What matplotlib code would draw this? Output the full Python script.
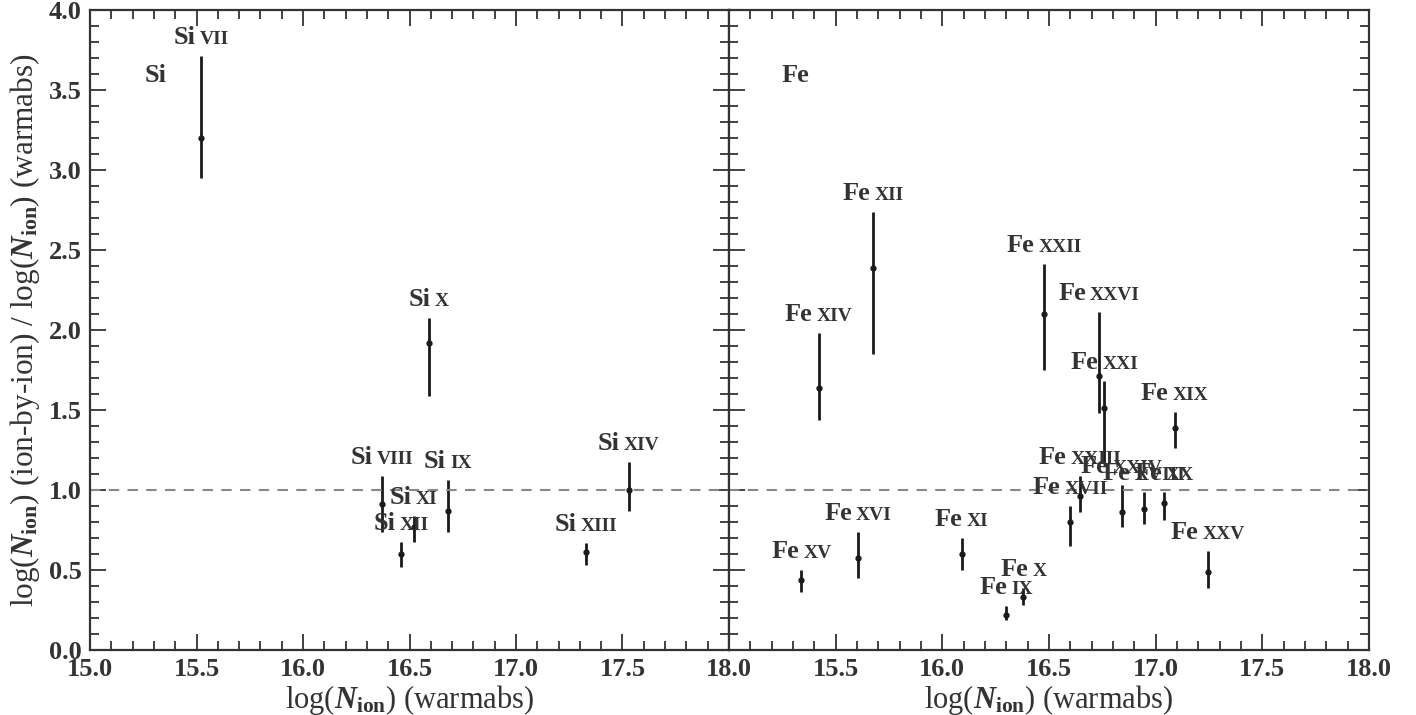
import matplotlib
matplotlib.use("Agg")
import matplotlib.pyplot as plt
from matplotlib.ticker import MultipleLocator
from matplotlib.offsetbox import TextArea, HPacker, AnnotationBbox

plt.rcParams['font.family'] = 'Liberation Serif'
plt.rcParams['font.weight'] = 'bold'
plt.rcParams['mathtext.fontset'] = 'custom'
plt.rcParams['mathtext.rm'] = 'Liberation Serif:bold'
plt.rcParams['mathtext.it'] = 'Liberation Serif:bold:italic'
plt.rcParams['mathtext.bf'] = 'Liberation Serif:bold'

INK = '#333333'

# silicon: warmabs column, ratio, upper / lower error ends
si_ions = ['VII', 'X', 'VIII', 'XII', 'XI', 'IX', 'XIII', 'XIV']
si_x = [15.52, 16.59, 16.37, 16.46, 16.52, 16.68, 17.33, 17.53]
si_y = [3.20, 1.92, 0.91, 0.60, 0.77, 0.87, 0.61, 1.00]
si_hi = [3.71, 2.075, 1.09, 0.675, 0.84, 1.06, 0.67, 1.175]
si_lo = [2.95, 1.59, 0.74, 0.52, 0.675, 0.74, 0.53, 0.87]

# iron
fe_ions = ['XV', 'XIV', 'XVI', 'XII', 'XI', 'IX', 'X', 'XXII', 'XXVI', 'XXI',
           'XIX', 'XXV', 'XVII', 'XXIII', 'XXIV', 'XVIII', 'XX']
fe_x = [15.34, 15.42, 15.605, 15.675, 16.09, 16.30, 16.38, 16.477, 16.735, 16.76,
        17.09, 17.245, 16.60, 16.645, 16.84, 16.945, 17.04]
fe_y = [0.44, 1.64, 0.575, 2.39, 0.60, 0.22, 0.33, 2.10, 1.71, 1.51,
        1.39, 0.49, 0.80, 0.96, 0.86, 0.88, 0.92]
fe_hi = [0.50, 1.98, 0.74, 2.74, 0.70, 0.275, 0.39, 2.41, 2.11, 1.68,
         1.49, 0.62, 0.90, 1.09, 1.03, 0.99, 0.99]
fe_lo = [0.36, 1.44, 0.45, 1.85, 0.50, 0.19, 0.28, 1.75, 1.48, 1.175,
         1.26, 0.39, 0.65, 0.86, 0.77, 0.79, 0.81]


def ion_label(ax, x, y, elem, stage):
    big = TextArea(elem, textprops=dict(fontsize=19, fontweight='bold', color=INK))
    small = TextArea(stage, textprops=dict(fontsize=14, fontweight='bold', color=INK))
    box = HPacker(children=[big, small], align='baseline', pad=0, sep=3)
    ab = AnnotationBbox(box, (x, y), xybox=(0, 5), xycoords='data',
                        boxcoords='offset points', box_alignment=(0.5, 0),
                        frameon=False, pad=0, annotation_clip=False)
    ax.add_artist(ab)


def panel(ax, elem, xs, ys, his, los, ions):
    for x, y, hi, lo, ion in zip(xs, ys, his, los, ions):
        ax.errorbar([x], [y], yerr=[[y - lo], [hi - y]], fmt='o', ms=3.5,
                    color='#1a1a1a', ecolor='#1a1a1a', elinewidth=2, capsize=0)
        ion_label(ax, x, hi, elem, ion)
    ax.axhline(1.0, color='#888888', lw=1.5, ls=(0, (5, 4)))
    ax.text(15.31, 3.59, elem, fontsize=19, fontweight='bold', color=INK,
            ha='center', va='center')
    ax.set_xlim(15.0, 18.0)
    ax.set_ylim(0.0, 4.0)
    ax.xaxis.set_major_locator(MultipleLocator(0.5))
    ax.xaxis.set_minor_locator(MultipleLocator(0.1))
    ax.yaxis.set_major_locator(MultipleLocator(0.5))
    ax.yaxis.set_minor_locator(MultipleLocator(0.1))
    ax.tick_params(which='both', direction='in', top=True, right=True,
                   color=INK, width=1.3, labelsize=19, labelcolor=INK, pad=6)
    ax.tick_params(which='major', length=11.5)
    ax.tick_params(which='minor', length=6.5)
    for s in ax.spines.values():
        s.set_color(INK)
        s.set_linewidth(1.6)
    ax.xaxis.set_major_formatter(plt.FuncFormatter(lambda v, p: '%.1f' % v))
    ax.set_xlabel(r'log($N_{\rm ion}$) (warmabs)', fontsize=22, color=INK, labelpad=1)


fig = plt.figure(figsize=(14.16, 7.15), dpi=100)
ax1 = fig.add_axes([0.0636, 0.0909, 0.4512, 0.8951])
ax2 = fig.add_axes([0.5148, 0.0909, 0.4520, 0.8951])

panel(ax1, 'Si', si_x, si_y, si_hi, si_lo, si_ions)
panel(ax2, 'Fe', fe_x, fe_y, fe_hi, fe_lo, fe_ions)

ax1.yaxis.set_major_formatter(plt.FuncFormatter(lambda v, p: '%.1f' % v))
ax1.set_ylabel(r'log($N_{\rm ion}$) (ion-by-ion) / log($N_{\rm ion}$) (warmabs)',
               fontsize=22.5, color=INK, labelpad=5)
ax2.set_yticklabels([])
ax2.xaxis.set_major_formatter(plt.FuncFormatter(
    lambda v, p: '' if abs(v - 15.0) < 1e-6 else '%.1f' % v))

fig.savefig('out.png', dpi=100)
